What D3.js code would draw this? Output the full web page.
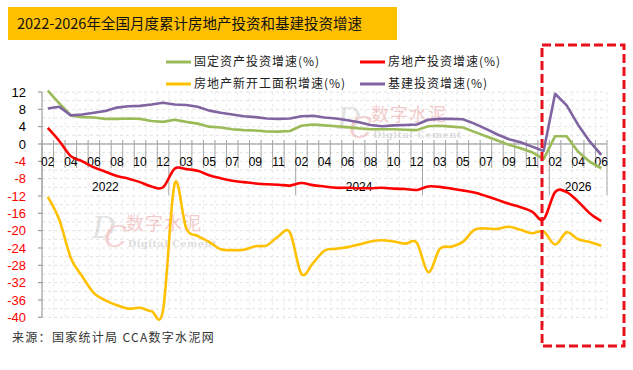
<!DOCTYPE html>
<html>
<head>
<meta charset="utf-8">
<script src="https://cdn.jsdelivr.net/npm/d3@7"></script>
<style>
  body { margin: 0; background: #fff; }
  svg { display: block; font-family: "Liberation Sans", Arial, "Noto Sans CJK SC", sans-serif; }
  .cjk { font-family: "Noto Sans CJK SC", sans-serif; }
</style>
</head>
<body>
<svg id="chart" width="633" height="370"></svg>
<script>
// categories: Jan-Feb are reported together, so each year starts at 02
const years = ['2022', '2023', '2024', '2025', '2026'];
const monthsFull = ['02', '03', '04', '05', '06', '07', '08', '09', '10', '11', '12'];
const months2026 = ['02', '03', '04', '05', '06'];
const shownYears = ['2022', '2024', '2026'];   // Excel skips 2023 / 2025 labels

// series values (%)
const fixedAsset = [
  12.3, 9.4, 6.6, 6.2, 6.1, 5.8, 5.8, 5.9, 5.8, 5.3, 5.1,
  5.6, 5.1, 4.7, 4.0, 3.8, 3.4, 3.2, 3.1, 2.9, 2.85, 3.0,
  4.2, 4.5, 4.3, 4.1, 3.9, 3.6, 3.4, 3.4, 3.4, 3.3, 3.2,
  4.1, 4.2, 4.0, 3.8, 2.8, 1.8, 0.8, -0.2, -1.0, -1.9, -3.5,
  1.8, 1.8, -1.8, -4.1, -5.6
];
const realEstate = [
  3.7, 0.7, -2.8, -4.0, -5.4, -6.4, -7.4, -8.0, -8.8, -9.8, -10.0,
  -5.7, -5.8, -6.2, -7.2, -7.9, -8.5, -8.8, -9.1, -9.3, -9.4, -9.6,
  -9.0, -9.5, -9.8, -10.1, -10.1, -10.2, -10.2, -10.1, -10.3, -10.4, -10.6,
  -9.8, -9.9, -10.3, -10.7, -11.2, -12.0, -12.9, -13.8, -14.6, -15.6, -17.4,
  -11.1, -11.1, -13.3, -16.0, -17.8
];
const newStarts = [
  -12.2, -17.5, -26.3, -30.6, -34.4, -36.1, -37.2, -38.0, -37.8, -38.6, -38.3,
  -9.2, -19.4, -21.2, -22.6, -24.3, -24.5, -24.4, -23.6, -23.4, -21.3, -20.4,
  -30.0, -27.5, -24.6, -24.2, -23.8, -23.2, -22.5, -22.2, -22.5, -23.0, -22.8,
  -29.6, -24.2, -23.7, -22.6, -19.8, -19.5, -19.6, -19.1, -19.8, -20.6, -20.2,
  -23.2, -20.4, -22.0, -22.6, -23.5
];
const infra = [
  8.2, 8.6, 6.6, 6.8, 7.2, 7.6, 8.4, 8.7, 8.8, 9.1, 9.5,
  9.1, 9.0, 8.6, 7.7, 7.2, 6.8, 6.4, 6.2, 5.9, 5.8, 5.9,
  6.4, 6.5, 6.1, 5.9, 5.5, 5.0, 4.4, 4.1, 4.3, 4.4, 4.5,
  5.6, 5.8, 5.8, 5.7, 4.7, 3.5, 2.2, 1.1, 0.4, -0.6, -1.6,
  11.6, 8.9, 4.4, 0.6, -2.5
];
const yTicks = [12, 8, 4, 0, -4, -8, -12, -16, -20, -24, -28, -32, -36, -40];

const series = [
  { name: '固定资产投资增速(%)', values: fixedAsset, color: '#9BBB59', smooth: false },
  { name: '房地产投资增速(%)', values: realEstate, color: '#FF0000', smooth: true },
  { name: '房地产新开工面积增速(%)', values: newStarts, color: '#FFC000', smooth: true },
  { name: '基建投资增速(%)', values: infra, color: '#8064A2', smooth: false }
];

// flat category list with its year
const cats = [];
years.forEach((y) => {
  const ms = y === '2026' ? months2026 : monthsFull;
  ms.forEach((m) => cats.push({ year: y, month: m }));
});

const svg = d3.select('#chart');

const x = d3.scaleBand().domain(d3.range(cats.length)).range([42, 607]);
const y = d3.scaleLinear().domain([-40, 12]).range([317.3, 92]);
const cx = (i) => x(i) + x.bandwidth() / 2;
const y0 = y(0);

// title banner
svg.append('rect').attr('x', 8).attr('y', 7).attr('width', 389).attr('height', 33).attr('fill', '#FFC000');
svg.append('text').attr('class', 'cjk').attr('x', 17).attr('y', 29)
  .attr('font-size', 14.5).attr('fill', '#111')
  .text('2022-2026年全国月度累计房地产投资和基建投资增速');

// grid
const grid = svg.append('g');
grid.selectAll('line.h')
  .data(d3.range(-40, 13, 2))
  .join('line')
  .attr('x1', 42).attr('x2', 607)
  .attr('y1', (d) => y(d)).attr('y2', (d) => y(d))
  .attr('stroke', '#e2e2e2').attr('stroke-dasharray', '3,3');
grid.selectAll('line.v')
  .data(d3.range(1, cats.length + 1))
  .join('line')
  .attr('x1', (i) => x.range()[0] + i * x.bandwidth())
  .attr('x2', (i) => x.range()[0] + i * x.bandwidth())
  .attr('y1', y(12)).attr('y2', y(-40))
  .attr('stroke', '#ececec').attr('stroke-dasharray', '3,3');

// watermarks (under the lines)
function watermark(px, py) {
  const g = svg.append('g').attr('transform', `translate(${px},${py})`).attr('opacity', 0.32);
  const dc = g.append('text').attr('x', 0).attr('y', 24).attr('font-family', 'DejaVu Serif, serif')
    .attr('font-size', 30).attr('font-style', 'italic');
  dc.append('tspan').attr('fill', '#aaa').text('D');
  dc.append('tspan').attr('dx', -12).attr('dy', 9).attr('fill', '#e07070').text('C');
  g.append('text').attr('class', 'cjk').attr('x', 34).attr('y', 16)
    .attr('font-size', 18).attr('letter-spacing', 1).attr('fill', '#e06060').text('数字水泥');
  g.append('text').attr('x', 36).attr('y', 33).attr('font-family', 'DejaVu Serif, serif')
    .attr('font-size', 9.5).attr('font-weight', 'bold').attr('letter-spacing', 0.6).attr('fill', '#999').text('Digital Cement');
}
watermark(92, 214);
watermark(337, 105);

// y axis
svg.append('line').attr('x1', 42).attr('x2', 42).attr('y1', y(12)).attr('y2', y(-40)).attr('stroke', '#8c8c8c');
svg.selectAll('line.ytick')
  .data(yTicks)
  .join('line')
  .attr('x1', 38).attr('x2', 42)
  .attr('y1', (d) => y(d)).attr('y2', (d) => y(d))
  .attr('stroke', '#8c8c8c');
svg.selectAll('text.ylab')
  .data(yTicks)
  .join('text')
  .attr('x', 26).attr('y', (d) => y(d)).attr('dy', '0.36em')
  .attr('text-anchor', 'end').attr('font-size', 13)
  .attr('fill', (d) => (d < 0 ? '#FF0000' : '#000'))
  .text((d) => d);

// x axis at zero, with multi-level category ticks
svg.append('line').attr('x1', 42).attr('x2', 607).attr('y1', y0).attr('y2', y0).attr('stroke', '#8c8c8c');
const groupStarts = new Set();
cats.forEach((c, i) => { if (i === 0 || cats[i - 1].year !== c.year) groupStarts.add(i); });
groupStarts.add(cats.length);
svg.selectAll('line.xtick')
  .data(d3.range(0, cats.length + 1))
  .join('line')
  .attr('x1', (i) => x.range()[0] + i * x.bandwidth())
  .attr('x2', (i) => x.range()[0] + i * x.bandwidth())
  .attr('y1', y0 - 4)
  .attr('y2', (i) => (groupStarts.has(i) ? y0 + 51 : y0 + 24))
  .attr('stroke', '#a6a6a6');
svg.selectAll('text.month')
  .data(d3.range(0, cats.length, 2))
  .join('text')
  .attr('x', (i) => cx(i)).attr('y', y0 + 22)
  .attr('text-anchor', 'middle').attr('font-size', 12).attr('fill', '#000')
  .text((i) => cats[i].month);
svg.selectAll('text.year')
  .data(shownYears)
  .join('text')
  .attr('x', (yr) => {
    const idx = d3.range(cats.length).filter((i) => cats[i].year === yr);
    return (cx(idx[0]) + cx(idx[idx.length - 1])) / 2;
  })
  .attr('y', y0 + 47)
  .attr('text-anchor', 'middle').attr('font-size', 12).attr('fill', '#000')
  .text((d) => d);

// lines
series.forEach((s) => {
  const line = d3.line()
    .x((d, i) => cx(i))
    .y((d) => y(d))
    .curve(s.smooth ? d3.curveCardinal.tension(0) : d3.curveLinear);
  svg.append('path')
    .datum(s.values)
    .attr('d', line)
    .attr('fill', 'none')
    .attr('stroke', s.color)
    .attr('stroke-width', 2.6)
    .attr('stroke-linejoin', 'round');
});

// legend
const legendPos = [[166, 62], [360, 62], [166, 84], [360, 84]];
series.forEach((s, i) => {
  const [lx, ly] = legendPos[i];
  svg.append('line').attr('x1', lx).attr('x2', lx + 25).attr('y1', ly).attr('y2', ly)
    .attr('stroke', s.color).attr('stroke-width', 3);
  svg.append('text').attr('class', 'cjk').attr('x', lx + 28).attr('y', ly).attr('dy', '0.36em')
    .attr('font-size', 12).attr('letter-spacing', 1).attr('fill', '#222').text(s.name);
});

// highlighted 2026 box
svg.append('rect').attr('x', 542).attr('y', 45).attr('width', 82).attr('height', 301)
  .attr('fill', 'none').attr('stroke', '#E8101A').attr('stroke-width', 3).attr('stroke-dasharray', '9,4');

// faint site watermark on top
svg.append('text').attr('x', 436).attr('y', 343).attr('font-size', 30)
  .attr('fill', '#ffffff').attr('opacity', 0.4)
  .text('dcement.com');

// source
svg.append('text').attr('class', 'cjk').attr('x', 12).attr('y', 342)
  .attr('font-size', 12).attr('letter-spacing', 1.3).attr('fill', '#333')
  .text('来源：国家统计局  CCA数字水泥网');
</script>
</body>
</html>
